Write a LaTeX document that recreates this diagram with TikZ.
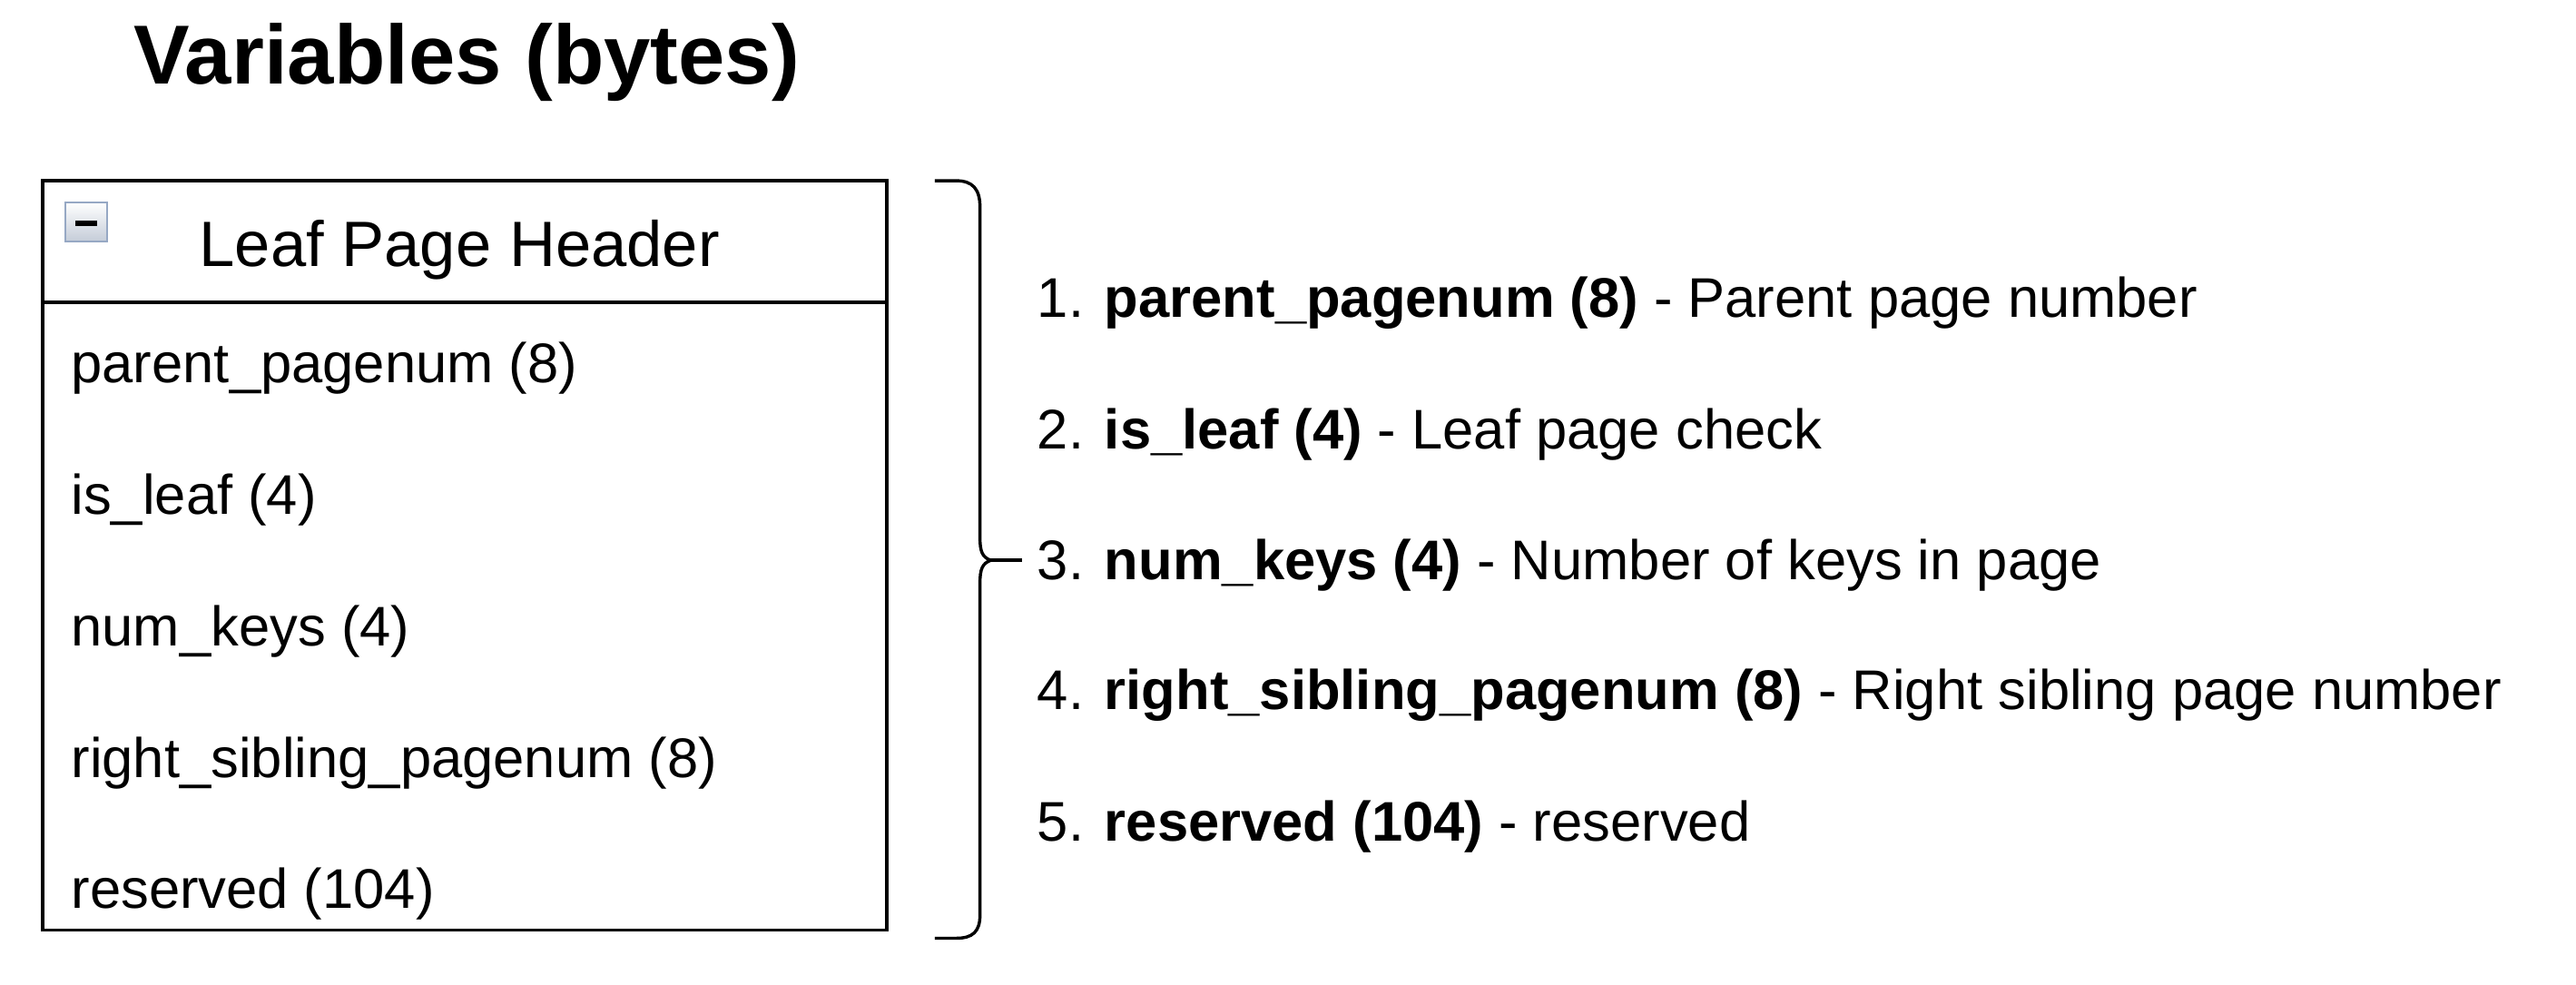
\documentclass[tikz,border=0pt]{standalone}
\usepackage{fontspec}
\setmainfont{Liberation Sans}
\definecolor{iconedge}{RGB}{150,168,196}
\definecolor{iconfill}{RGB}{196,204,216}
\begin{document}
\begin{tikzpicture}[x=0.5pt, y=-0.5pt,
    field/.style={anchor=base west, inner sep=0pt, font=\fontsize{17}{20}\selectfont},
    item/.style={anchor=base west, inner xsep=4.5pt, inner ysep=0pt, font=\fontsize{17}{20}\selectfont}]
    \useasboundingbox (0,0) rectangle (1568,599);
    \node[anchor=base west, inner sep=0pt, font=\fontsize{25.5}{30}\selectfont\bfseries] (title) at (81,51) {Variables (bytes)};
    \draw[line width=1.05pt] (26,110) rectangle (540,566);
    \draw[line width=1.05pt] (26,184) -- (540,184);
    \shade[top color=white, bottom color=iconfill, draw=iconedge, line width=0.6pt] (40,123) rectangle (65,147);
    \draw[line width=1.5pt] (46,136) -- (59,136);
    \node[anchor=base west, inner sep=0pt, font=\fontsize{19.5}{23}\selectfont] (head) at (121,162) {Leaf Page Header};
    \node[field] (r1) at (43,233) {parent\_pagenum (8)};
    \node[field] (r2) at (43,313) {is\_leaf (4)};
    \node[field] (r3) at (43,393) {num\_keys (4)};
    \node[field] (r4) at (43,473) {right\_sibling\_pagenum (8)};
    \node[field] (r5) at (43,553) {reserved (104)};
    \draw[line width=0.95pt] (569,110) -- (582,110) .. controls (592,110) and (596.5,115) .. (596.5,126)
        -- (596.5,327) .. controls (596.5,336) and (598,339) .. (603,341)
        .. controls (598,343) and (596.5,346) .. (596.5,355)
        -- (596.5,557) .. controls (596.5,567) and (592,571) .. (582,571) -- (569,571);
    \node[item] (d1) at (622,193) {1. \textbf{parent\_pagenum (8)} - Parent page number};
    \node[item] (d2) at (622,273) {2. \textbf{is\_leaf (4)} - Leaf page check};
    \node[item] (d3) at (622,353) {3. \textbf{num\_keys (4)} - Number of keys in page};
    \node[item] (d4) at (622,432) {4. \textbf{right\_sibling\_pagenum (8)} - Right sibling page number};
    \node[item] (d5) at (622,512) {5. \textbf{reserved (104)} - reserved};
    \coordinate (tip) at (603,341);
    \draw[line width=0.95pt] (tip) -- (tip -| d3.west);
\end{tikzpicture}
\end{document}
